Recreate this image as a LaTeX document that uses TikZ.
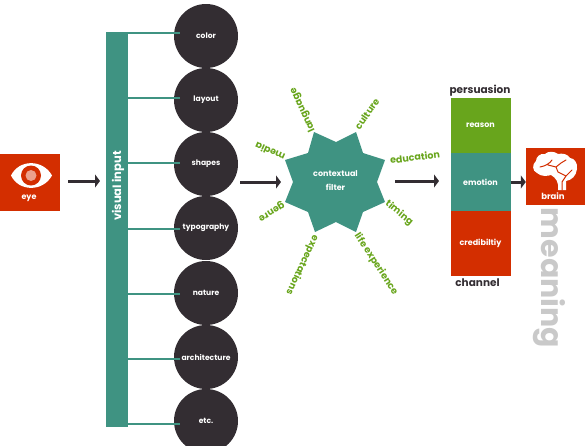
\documentclass[tikz,border=0pt]{standalone}
\usepackage{fontspec}
\setmainfont{Poppins}
\usetikzlibrary{arrows.meta}
\definecolor{teal1}{HTML}{3F9382}
\definecolor{red1}{HTML}{D32E00}
\definecolor{green1}{HTML}{68A51C}
\definecolor{dark1}{HTML}{332D32}
\definecolor{gray1}{HTML}{C9C9C9}
\tikzset{
 circ/.style={circle,fill=dark1,minimum size=64pt,inner sep=0pt,text=white,font=\fontsize{7.6}{9}\selectfont\bfseries},
 link/.style={teal1,line width=2.6pt},
 flow/.style={dark1,line width=3pt,-{Triangle[length=5pt,width=13pt]}},
 lab/.style={green1,font=\fontsize{9.5}{10}\selectfont\bfseries,inner sep=0pt},
 redbox/.style={fill=red1,inner sep=0pt},
 layer/.style={inner sep=0pt,minimum width=60pt,text=white,font=\fontsize{8}{9}\selectfont\bfseries},
 head/.style={dark1,font=\fontsize{10.5}{11}\selectfont\bfseries,inner sep=0pt},
}
\begin{document}
\begin{tikzpicture}[x=1pt,y=-1pt]
\useasboundingbox (0,0) rectangle (585,445);
% eye
\node[redbox,minimum width=60pt,minimum height=57pt] (eye) at (30,182.5) {};
\fill[white] (11,175.5) .. controls (19,159) and (43,159) .. (52,175.5) .. controls (43,192) and (19,192) .. (11,175.5) -- cycle;
\fill[red1] (31,175.5) circle (10);
\fill[red1!45!white] (31,175.5) circle (5.5);
\node[text=white,font=\fontsize{8}{9}\selectfont\bfseries,inner sep=0pt] (eyet) at (29,198) {eye};
% bar
\node[fill=teal1,inner sep=0pt,minimum width=22pt,minimum height=395pt] (bar) at (117,229.5) {};
\node[rotate=90,text=white,font=\fontsize{11.5}{12}\selectfont\bfseries,inner sep=0pt] (bart) at (118,186) {visual input};
% circles
\node[circ] (c1) at (206,36) {color};
\node[circ] (c2) at (206,100) {layout};
\node[circ] (c3) at (206,164) {shapes};
\node[circ] (c4) at (206,228) {typography};
\node[circ] (c5) at (206,293) {nature};
\node[circ] (c6) at (206,357) {architecture};
\node[circ] (c7) at (206,421) {etc.};
\foreach \n/\y in {1/33,2/98,3/163,4/229,5/294,6/359,7/424}{
 \coordinate (s\n) at (126,\y);
 \coordinate (e\n) at (180,\y);
 \draw[link] (s\n) -- (e\n);
}
% arrows
\coordinate (a1s) at (68,181); \coordinate (a1e) at (100,181);
\draw[flow] (a1s) -- (a1e);
\coordinate (a2s) at (240,182); \coordinate (a2e) at (281,182);
\draw[flow] (a2s) -- (a2e);
% star
\fill[teal1] (314,132) -- (336,142) -- (356,132) -- (363,153) -- (385,160) -- (377,182) -- (385,202) -- (363,212)
 -- (356,232) -- (336,222) -- (315,232) -- (308,212) -- (285,202) -- (293,182) -- (285,160) -- (308,153) -- cycle;
\node[text=white,font=\fontsize{8}{14}\selectfont\bfseries,align=center,inner sep=0pt] (star) at (335.5,181) {contextual\\filter};
\node[lab,rotate=115] (l1) at (303,110) {language};
\node[lab,rotate=55] (l2) at (367,114) {culture};
\node[lab,rotate=7] (l3) at (415,157) {education};
\node[lab,rotate=-39] (l4) at (399,213) {timing};
\node[lab,rotate=-57] (l5) at (376,264) {life experience};
\node[lab,rotate=245] (l6) at (302,265) {expectations};
\node[lab,rotate=211] (l7) at (271,211) {genre};
\node[lab,rotate=156] (l8) at (270,152) {media};
\coordinate (a3s) at (395,181); \coordinate (a3e) at (439,181);
\draw[flow] (a3s) -- (a3e);
% stack
\node[layer,fill=green1,minimum height=55pt] (r1) at (480.5,125.5) {reason};
\node[layer,fill=teal1,minimum height=58pt] (r2) at (480.5,182) {emotion};
\node[layer,fill=red1,minimum height=65pt] (r3) at (480.5,243) {credibiltiy};
\node[head] (p) at (480,90.5) {persuasion};
\node[head] (ch) at (477.5,283) {channel};
% brain
\node[redbox,minimum width=59pt,minimum height=57pt] (brain) at (555.5,176.5) {};
\draw[flow] (r2.east) -- (brain.west |- r2.east);
\fill[white] (566,190) -- (566,181) .. controls (572,180) and (576,176) .. (577,169)
 .. controls (578,163) and (574,158) .. (570,158) .. controls (568,154) and (562,153) .. (558,154)
 .. controls (554,151) and (548,151) .. (545,154) .. controls (540,153) and (536,157) .. (536,161)
 .. controls (532,164) and (532,171) .. (537,173) .. controls (541,177) and (548,176) .. (551,175)
 .. controls (556,178) and (559,182) .. (558,190) -- cycle;
\draw[red1,line width=1pt,line cap=round] (540,167) .. controls (546,166) and (550,163) .. (552,160)
 (548,165) -- (556,167) -- (561,163) (556,167) -- (558,172) -- (566,176) (566,176) -- (572,170) (566,176) -- (562,182) -- (562,190) (561,163) -- (566,160);
\node[text=white,font=\fontsize{8.5}{9}\selectfont\bfseries,inner sep=0pt] (braint) at (553,196) {brain};
\node[rotate=-90,text=gray1,font=\fontsize{30}{31}\selectfont\bfseries,inner sep=0pt] (mean) at (549,278) {meaning};
\end{tikzpicture}
\end{document}
